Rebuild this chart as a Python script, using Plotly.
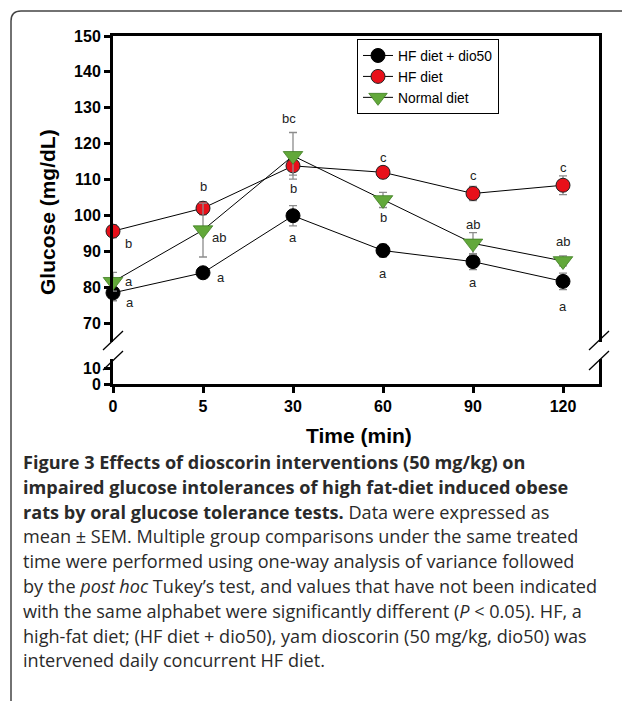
import plotly.graph_objects as go

# ---------------- data ----------------
times = ["0", "5", "30", "60", "90", "120"]
series_names = ["HF diet + dio50", "HF diet", "Normal diet"]
dio50_mean = [78.4, 84.0, 99.9, 90.2, 87.1, 81.6]
dio50_sem = [2.2, 1.0, 2.8, 1.8, 2.2, 2.3]
hf_mean = [95.6, 102.0, 113.8, 112.0, 106.1, 108.4]
hf_sem = [1.8, 1.8, 2.6, 1.6, 2.0, 2.6]
normal_mean = [81.5, 95.9, 116.6, 104.3, 92.2, 87.3]
normal_sem = [2.6, 7.5, 6.5, 2.1, 3.0, 1.4]
dio50_letters = ["a", "a", "a", "a", "a", "a"]
hf_letters = ["b", "b", "b", "c", "c", "c"]
normal_letters = ["a", "ab", "bc", "b", "ab", "ab"]
upper_ticks = [70, 80, 90, 100, 110, 120, 130, 140, 150]
lower_ticks = [0, 10]

caption_lines = [
    "<b>Figure 3 Effects of dioscorin interventions (50 mg/kg) on</b>",
    "<b>impaired glucose intolerances of high fat-diet induced obese</b>",
    "<b>rats by oral glucose tolerance tests.</b> Data were expressed as",
    "mean ± SEM. Multiple group comparisons under the same treated",
    "time were performed using one-way analysis of variance followed",
    "by the <i>post hoc</i> Tukey’s test, and values that have not been indicated",
    "with the same alphabet were significantly different (<i>P</i> &lt; 0.05). HF, a",
    "high-fat diet; (HF diet + dio50), yam dioscorin (50 mg/kg, dio50) was",
    "intervened daily concurrent HF diet.",
]

# ---------------- layout geometry (pixels) ----------------
W, H = 622, 703
L, R = 113, 599          # plot left / right
T, B = 36, 384           # plot top / bottom
PW, PH = R - L, B - T


def px(xp):
    return (xp - L) / PW


def py(yp):
    return (B - yp) / PH


xi = list(range(len(times)))

fig = go.Figure()

# empty trace so that the lower (broken-axis) subplot is created
fig.add_trace(go.Scatter(x=[], y=[], xaxis="x", yaxis="y", showlegend=False,
                         hoverinfo="skip", mode="markers"))

styles = [
    dict(symbol="circle", color="black", line=dict(color="black", width=1), size=14),
    dict(symbol="circle", color="#e8101a", line=dict(color="#222222", width=1), size=14),
    dict(symbol="triangle-down", color="#62a83a", line=dict(color="#3f7d22", width=0.8), size=17),
]
means = [dio50_mean, hf_mean, normal_mean]
sems = [dio50_sem, hf_sem, normal_sem]

for name, m, s, st in zip(series_names, means, sems, styles):
    fig.add_trace(go.Scatter(
        x=xi, y=m, name=name, mode="lines+markers",
        xaxis="x2", yaxis="y2", cliponaxis=False,
        line=dict(color="black", width=1),
        marker=st,
        error_y=dict(type="data", array=s, visible=True, color="#8c8c8c",
                     thickness=1.3, width=4),
    ))

# letters (offsets in px: dx, dy (positive = down), xanchor)
offsets = {
    0: [(11, 10, "left"), (12, 5, "left"), (0, 22, "center"), (0, 23, "center"), (0, 21, "center"), (0, 25, "center")],
    1: [(10, 12, "left"), (0, -22, "center"), (0, 23, "center"), (0, -15, "center"), (0, -18, "center"), (0, -18, "center")],
    2: [(10, 0, "left"), (7, 7, "left"), (-4, -37, "center"), (0, 18, "center"), (0, -19, "center"), (0, -19, "center")],
}
letters = [dio50_letters, hf_letters, normal_letters]
annotations = []
for k in range(3):
    for i in range(len(times)):
        dx, dy, xa = offsets[k][i]
        annotations.append(dict(
            x=xi[i], y=means[k][i], xref="x2", yref="y2", text=letters[k][i],
            showarrow=False, xanchor=xa, yanchor="middle", xshift=dx, yshift=-dy,
            font=dict(family="Arial, Liberation Sans", size=13, color="#222222"),
        ))

# axis titles
annotations.append(dict(x=px(47), y=py(212), xref="paper", yref="paper",
                        text="<b>Glucose (mg/dL)</b>", textangle=-90, showarrow=False,
                        xanchor="center", yanchor="middle",
                        font=dict(family="Arial, Liberation Sans", size=21, color="black")))
annotations.append(dict(x=px(359), y=py(435), xref="paper", yref="paper",
                        text="<b>Time (min)</b>", showarrow=False,
                        xanchor="center", yanchor="middle",
                        font=dict(family="Arial, Liberation Sans", size=21, color="black")))

# caption
cap_y0, cap_dy = 462, 24.8
for j, line in enumerate(caption_lines):
    annotations.append(dict(x=px(21), y=py(cap_y0 + j * cap_dy), xref="paper", yref="paper",
                            text=line, showarrow=False, xanchor="left", yanchor="middle",
                            font=dict(family="Open Sans", size=18.1, color="#2a2a2a")))

# shapes: frame + break marks
shapes = []
fx, fy, rr = 11, 11, 10
shapes.append(dict(
    type="path", xref="paper", yref="paper",
    path=(f"M {px(fx)},{py(H - 2)} L {px(fx)},{py(fy + rr)} "
          f"Q {px(fx)},{py(fy)} {px(fx + rr)},{py(fy)} L {px(W + 5)},{py(fy)}"),
    line=dict(color="#444444", width=1.5),
))
for xc in (L, R):
    for (y1, y2) in ((350, 331), (370, 351)):
        shapes.append(dict(type="line", xref="paper", yref="paper",
                           x0=px(xc - 10), y0=py(y1), x1=px(xc + 10), y1=py(y2),
                           line=dict(color="black", width=1.3)))

lower_top = 359
upper_bottom = 342
lo_range = [0, (B - lower_top) / 1.6]
up_range = [150 - (upper_bottom - T) / 3.5875, 150]

tickfont = dict(family="Arial, Liberation Sans", size=16, color="black")

fig.update_layout(
    width=W, height=H,
    margin=dict(l=L, r=W - R, t=T, b=H - B, pad=0),
    paper_bgcolor="white", plot_bgcolor="white",
    showlegend=True,
    legend=dict(x=px(357), y=py(39), xanchor="left", yanchor="top",
                bordercolor="black", borderwidth=1, bgcolor="white",
                font=dict(family="Arial, Liberation Sans", size=13.8, color="black"),
                itemwidth=30, tracegroupgap=0),
    xaxis=dict(domain=[0, 1], anchor="y", range=[0, 5.4], tickmode="array",
               tickvals=xi, ticktext=[f"<b>{t}</b>" for t in times],
               showline=True, linecolor="black", linewidth=3, mirror=False,
               ticks="outside", ticklen=6, tickwidth=3, tickcolor="black",
               showgrid=False, zeroline=False, tickfont=tickfont),
    xaxis2=dict(domain=[0, 1], anchor="y2", matches="x", side="top",
                showline=True, linecolor="black", linewidth=3,
                showticklabels=False, ticks="", showgrid=False, zeroline=False),
    yaxis=dict(domain=[0, py(lower_top)], anchor="x", range=lo_range,
               tickmode="array", tickvals=lower_ticks,
               ticktext=[f"<b>{t}</b>" for t in lower_ticks],
               showline=True, linecolor="black", linewidth=3, mirror=True,
               ticks="outside", ticklen=6, tickwidth=3, tickcolor="black",
               showgrid=False, zeroline=False, tickfont=tickfont),
    yaxis2=dict(domain=[py(upper_bottom), 1], anchor="x2", range=up_range,
                tickmode="array", tickvals=upper_ticks,
                ticktext=[f"<b>{t}</b>" for t in upper_ticks],
                showline=True, linecolor="black", linewidth=3, mirror=True,
                ticks="outside", ticklen=6, tickwidth=3, tickcolor="black",
                showgrid=False, zeroline=False, tickfont=tickfont),
    annotations=annotations,
    shapes=shapes,
)

fig.write_html("out.html", config={"displayModeBar": False},
               post_script="document.body.style.margin='0';document.body.style.overflow='hidden';")
